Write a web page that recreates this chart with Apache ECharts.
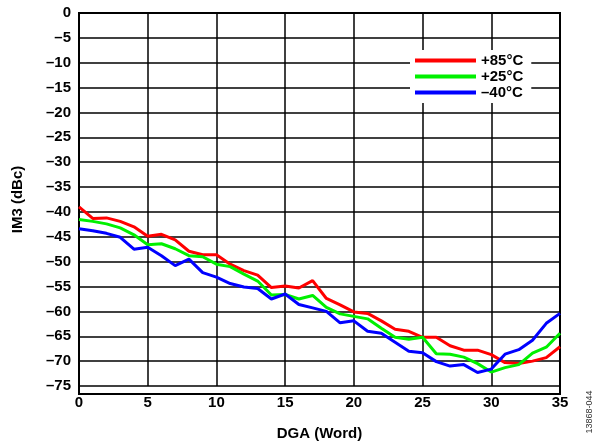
<!DOCTYPE html>
<html>
<head>
<meta charset="utf-8">
<style>
  html, body { margin: 0; padding: 0; background: #fff; }
  #chart { width: 594px; height: 446px; }
</style>
<script src="https://cdn.jsdelivr.net/npm/echarts@6/dist/echarts.min.js"></script>
</head>
<body>
<div id="chart"></div>
<script>
var dgaWords = [];
for (var i = 0; i <= 35; i++) dgaWords.push(i);

var im3Hot = [-39.0, -41.3, -41.2, -41.9, -43.0, -44.9, -44.5, -45.6, -47.9, -48.6,
  -48.6, -50.5, -51.8, -52.7, -55.2, -54.9, -55.3, -53.8, -57.4, -58.7,
  -60.1, -60.4, -61.9, -63.6, -64.0, -65.2, -65.2, -66.9, -67.8, -67.8,
  -68.7, -70.3, -70.5, -70.0, -69.3, -67.1];
var im3Room = [-41.5, -41.9, -42.4, -43.2, -44.6, -46.6, -46.4, -47.4, -48.8, -49.0,
  -50.5, -51.0, -52.5, -53.9, -56.7, -56.6, -57.5, -56.8, -59.2, -60.5,
  -61.0, -61.5, -63.4, -65.2, -65.6, -65.2, -68.5, -68.6, -69.2, -70.5,
  -72.2, -71.3, -70.7, -68.4, -67.2, -64.4];
var im3Cold = [-43.4, -43.8, -44.3, -45.1, -47.5, -47.1, -48.8, -50.8, -49.5, -52.2,
  -53.1, -54.4, -55.1, -55.4, -57.5, -56.5, -58.6, -59.3, -60.0, -62.3,
  -61.9, -64.0, -64.4, -66.2, -68.0, -68.3, -70.1, -71.0, -70.7, -72.3,
  -71.6, -68.6, -67.7, -65.8, -62.4, -60.4];
var seriesNames = ['+85°C', '+25°C', '–40°C'];

function pairs(vals) {
  return vals.map(function (v, i) { return [dgaWords[i], v]; });
}
function dash(v) { return v < 0 ? '–' + Math.abs(v) : String(v); }

var font = '"Liberation Sans", Arial, sans-serif';
var chart = echarts.init(document.getElementById('chart'), null, { renderer: 'canvas' });
var colors = ['#ff0000', '#00f000', '#0000ff'];
var data = [im3Hot, im3Room, im3Cold];

chart.setOption({
  animation: false,
  grid: { left: 79, right: 34, top: 13, bottom: 52 },
  legend: {
    data: seriesNames.map(function (n) { return { name: n, icon: 'rect' }; }),
    orient: 'vertical',
    left: 410,
    top: 50,
    padding: [3, 8, 3, 5],
    itemGap: 1,
    itemWidth: 61,
    itemHeight: 4,
    backgroundColor: '#fff',
    textStyle: { color: '#000', fontFamily: font, fontWeight: 'bold', fontSize: 15, padding: [0, 0, 0, 0] }
  },
  xAxis: {
    type: 'value', min: 0, max: 35, interval: 5,
    name: 'DGA (Word)', nameLocation: 'middle', nameGap: 40,
    nameTextStyle: { color: '#000', fontFamily: font, fontWeight: 'bold', fontSize: 15 },
    axisLine: { show: true, lineStyle: { color: '#000', width: 2 } },
    axisTick: { show: false },
    axisLabel: { color: '#000', fontFamily: font, fontWeight: 'bold', fontSize: 15, margin: 9 },
    splitLine: { show: true, lineStyle: { color: '#000', width: 1.5 } }
  },
  yAxis: {
    type: 'value', min: -75, max: 0, interval: 5,
    name: 'IM3 (dBc)', nameLocation: 'middle', nameGap: 54,
    nameTextStyle: { color: '#000', fontFamily: font, fontWeight: 'bold', fontSize: 15 },
    axisLine: { show: true, lineStyle: { color: '#000', width: 2 } },
    axisTick: { show: false },
    axisLabel: { color: '#000', fontFamily: font, fontWeight: 'bold', fontSize: 15, margin: 8, formatter: dash },
    splitLine: { show: true, lineStyle: { color: '#000', width: 1.5 } }
  },
  graphic: [
    {
      type: 'rect', silent: true, z: 0,
      shape: { x: 79, y: 13, width: 481, height: 381 },
      style: { fill: 'none', stroke: '#000', lineWidth: 2 }
    },
    {
      type: 'text', x: 590, y: 412, rotation: Math.PI / 2,
      style: { text: '13868-044', fill: '#333', font: '9px ' + font, textAlign: 'center', textVerticalAlign: 'middle' }
    }
  ],
  series: seriesNames.map(function (n, k) {
    return {
      name: n, type: 'line', data: pairs(data[k]),
      showSymbol: false, symbol: 'none', z: 3,
      lineStyle: { color: colors[k], width: 3 },
      itemStyle: { color: colors[k] }
    };
  })
});
</script>
</body>
</html>
